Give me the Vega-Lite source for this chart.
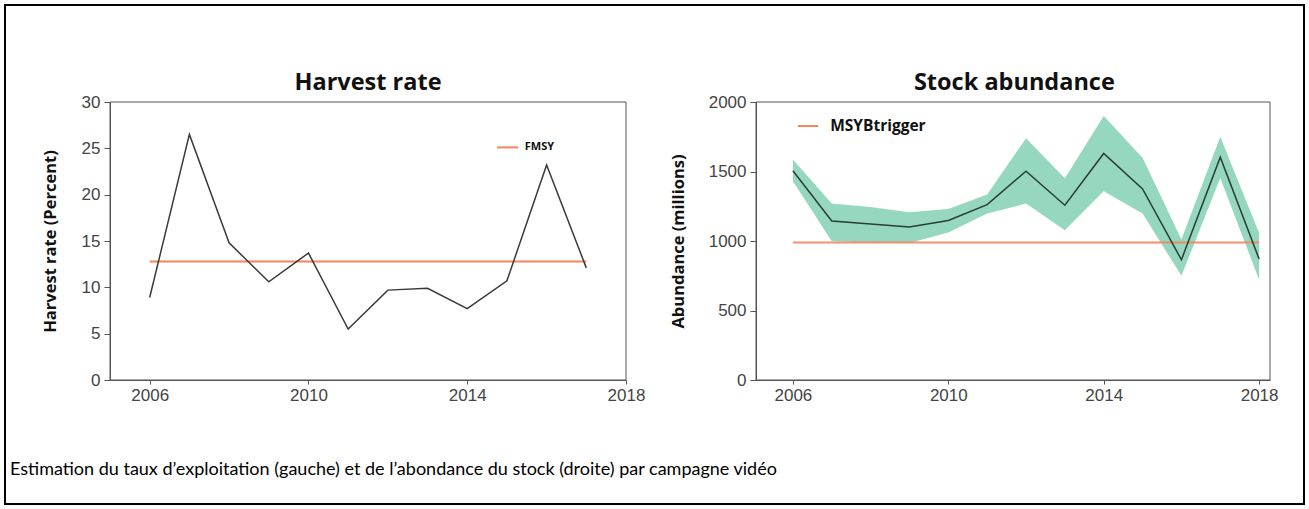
{
  "$schema": "https://vega.github.io/schema/vega-lite/v6.json",
  "width": 1299,
  "height": 499,
  "padding": 5,
  "autosize": {"type": "none"},
  "background": "white",
  "title": {
    "text": "Estimation du taux d’exploitation (gauche) et de l’abondance du stock (droite) par campagne vidéo",
    "orient": "bottom", "anchor": "start", "frame": "group", "offset": -43, "dx": 5,
    "font": "Lato", "fontSize": 18, "fontWeight": "normal", "color": "#000"
  },
  "datasets": {
    "harvest": [
      {"year": 2006, "rate": 8.9},
      {"year": 2007, "rate": 26.5},
      {"year": 2008, "rate": 14.8},
      {"year": 2009, "rate": 10.6},
      {"year": 2010, "rate": 13.7},
      {"year": 2011, "rate": 5.5},
      {"year": 2012, "rate": 9.7},
      {"year": 2013, "rate": 9.9},
      {"year": 2014, "rate": 7.7},
      {"year": 2015, "rate": 10.7},
      {"year": 2016, "rate": 23.2},
      {"year": 2017, "rate": 12.1}
    ],
    "abundance": [
      {"year": 2006, "value": 1505, "lo": 1430, "hi": 1587},
      {"year": 2007, "value": 1144, "lo": 998, "hi": 1269},
      {"year": 2008, "value": 1123, "lo": 990, "hi": 1245},
      {"year": 2009, "value": 1101, "lo": 986, "hi": 1207},
      {"year": 2010, "value": 1147, "lo": 1062, "hi": 1231},
      {"year": 2011, "value": 1262, "lo": 1197, "hi": 1334},
      {"year": 2012, "value": 1502, "lo": 1269, "hi": 1740},
      {"year": 2013, "value": 1257, "lo": 1077, "hi": 1452},
      {"year": 2014, "value": 1630, "lo": 1358, "hi": 1899},
      {"year": 2015, "value": 1375, "lo": 1197, "hi": 1599},
      {"year": 2016, "value": 865, "lo": 750, "hi": 1010},
      {"year": 2017, "value": 1603, "lo": 1454, "hi": 1750},
      {"year": 2018, "value": 870, "lo": 721, "hi": 1058}
    ],
    "fmsy": [{"ref": "FMSY", "start": 2006, "end": 2017, "value": 12.8}],
    "btrigger": [{"ref": "MSYBtrigger", "start": 2006, "end": 2018, "value": 990}]
  },
  "layer": [
    {
      "layer": [
        {
          "data": {"values": [{}]},
          "mark": {"type": "rect", "fillOpacity": 0, "stroke": "#555", "strokeWidth": 1},
          "encoding": {
            "x": {"datum": 2005, "type": "quantitative",
              "scale": {"domain": [2005, 2018], "range": [105, 621], "zero": false, "nice": false},
              "axis": {"orient": "bottom", "offset": -124, "values": [2006, 2010, 2014, 2018], "format": "d", "title": null, "tickSize": 4, "labelPadding": 3, "labelFlush": false}},
            "x2": {"datum": 2018},
            "y": {"datum": 0, "type": "quantitative",
              "scale": {"domain": [0, 30], "range": [375, 97], "zero": false, "nice": false},
              "axis": {"orient": "left", "offset": -105, "values": [0, 5, 10, 15, 20, 25, 30], "format": "d", "title": "Harvest rate (Percent)", "titleX": -60, "titleY": 236, "titleBaseline": "middle", "titleAngle": -90, "tickSize": 6, "labelPadding": 4}},
            "y2": {"datum": 30}
          }
        },
        {
          "data": {"name": "fmsy"},
          "mark": {"type": "rule", "color": "#f4845a", "strokeWidth": 2},
          "encoding": {
            "x": {"field": "start", "type": "quantitative"},
            "x2": {"field": "end"},
            "y": {"field": "value", "type": "quantitative"}
          }
        },
        {
          "data": {"name": "harvest"},
          "mark": {"type": "line", "color": "#3a3a3a", "strokeWidth": 1.5},
          "encoding": {
            "x": {"field": "year", "type": "quantitative"},
            "y": {"field": "rate", "type": "quantitative"}
          }
        },
        {
          "data": {"values": [{"label": "FMSY"}]},
          "mark": {"type": "rule", "color": "#f4845a", "strokeWidth": 2},
          "encoding": {
            "x": {"datum": 2014.75, "type": "quantitative"},
            "x2": {"datum": 2015.28},
            "y": {"datum": 25.1, "type": "quantitative"}
          }
        },
        {
          "data": {"values": [{"label": "FMSY"}]},
          "mark": {"type": "text", "align": "left", "baseline": "middle", "font": "Open Sans", "fontWeight": "bold", "fontSize": 11, "color": "#111"},
          "encoding": {
            "x": {"datum": 2015.45, "type": "quantitative"},
            "y": {"datum": 25.1, "type": "quantitative"},
            "text": {"field": "label"}
          }
        },
        {
          "data": {"values": [{"t": "Harvest rate"}]},
          "mark": {"type": "text", "align": "center", "baseline": "middle", "font": "Open Sans", "fontWeight": "bold", "fontSize": 23.5, "color": "#111"},
          "encoding": {
            "x": {"datum": 2011.5, "type": "quantitative"},
            "y": {"datum": 32.05, "type": "quantitative"},
            "text": {"field": "t"}
          }
        }
      ]
    },
    {
      "layer": [
        {
          "data": {"values": [{}]},
          "mark": {"type": "rect", "fillOpacity": 0, "stroke": "#555", "strokeWidth": 1},
          "encoding": {
            "x": {"datum": 2005.05, "type": "quantitative",
              "scale": {"domain": [2005.05, 2018.28], "range": [751, 1265], "zero": false, "nice": false},
              "axis": {"orient": "bottom", "offset": -124, "values": [2006, 2010, 2014, 2018], "format": "d", "title": null, "tickSize": 4, "labelPadding": 3, "labelFlush": false}},
            "x2": {"datum": 2018.28},
            "y": {"datum": 0, "type": "quantitative",
              "scale": {"domain": [0, 2000], "range": [375, 97], "zero": false, "nice": false},
              "axis": {"orient": "left", "offset": -751, "values": [0, 500, 1000, 1500, 2000], "format": "d", "title": "Abundance (millions)", "titleX": -78, "titleY": 236, "titleBaseline": "middle", "titleAngle": -90, "tickSize": 6, "labelPadding": 4}},
            "y2": {"datum": 2000}
          }
        },
        {
          "data": {"name": "abundance"},
          "mark": {"type": "area", "color": "#96d7c0", "opacity": 1},
          "encoding": {
            "x": {"field": "year", "type": "quantitative"},
            "y": {"field": "lo", "type": "quantitative"},
            "y2": {"field": "hi"}
          }
        },
        {
          "data": {"name": "btrigger"},
          "mark": {"type": "rule", "color": "#f4845a", "strokeWidth": 2, "opacity": 0.9},
          "encoding": {
            "x": {"field": "start", "type": "quantitative"},
            "x2": {"field": "end"},
            "y": {"field": "value", "type": "quantitative"}
          }
        },
        {
          "data": {"name": "abundance"},
          "mark": {"type": "line", "color": "#2a3d39", "strokeWidth": 1.5},
          "encoding": {
            "x": {"field": "year", "type": "quantitative"},
            "y": {"field": "value", "type": "quantitative"}
          }
        },
        {
          "data": {"values": [{"label": "MSYBtrigger"}]},
          "mark": {"type": "rule", "color": "#f4845a", "strokeWidth": 2},
          "encoding": {
            "x": {"datum": 2006.13, "type": "quantitative"},
            "x2": {"datum": 2006.65},
            "y": {"datum": 1827, "type": "quantitative"}
          }
        },
        {
          "data": {"values": [{"label": "MSYBtrigger"}]},
          "mark": {"type": "text", "align": "left", "baseline": "middle", "font": "Open Sans", "fontWeight": "bold", "fontSize": 15.5, "color": "#111"},
          "encoding": {
            "x": {"datum": 2006.96, "type": "quantitative"},
            "y": {"datum": 1827, "type": "quantitative"},
            "text": {"field": "label"}
          }
        },
        {
          "data": {"values": [{"t": "Stock abundance"}]},
          "mark": {"type": "text", "align": "center", "baseline": "middle", "font": "Open Sans", "fontWeight": "bold", "fontSize": 23.5, "color": "#111"},
          "encoding": {
            "x": {"datum": 2011.7, "type": "quantitative"},
            "y": {"datum": 2137, "type": "quantitative"},
            "text": {"field": "t"}
          }
        }
      ]
    }
  ],
  "resolve": {
    "scale": {"x": "independent", "y": "independent"},
    "axis": {"x": "independent", "y": "independent"}
  },
  "config": {
    "view": {"stroke": "#000", "strokeWidth": 2},
    "axis": {
      "grid": false,
      "domainColor": "#555",
      "tickColor": "#555",
      "labelColor": "#444",
      "labelFont": "Liberation Sans",
      "labelFontSize": 17,
      "titleFont": "Open Sans",
      "titleFontWeight": "bold",
      "titleFontSize": 16.5,
      "titleColor": "#111"
    }
  }
}
